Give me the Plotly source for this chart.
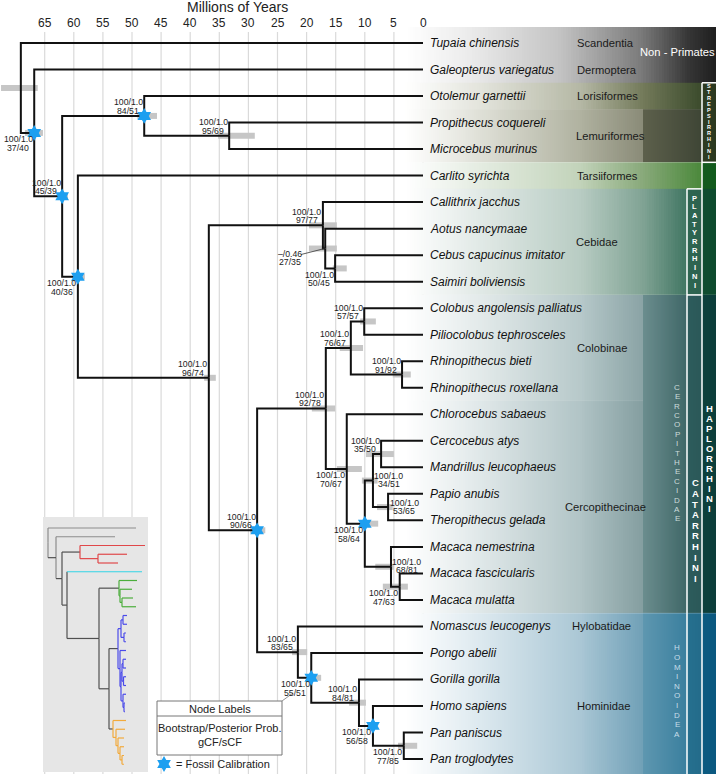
import plotly.graph_objects as go

# ---------------- data ----------------
tip_names = ["Tupaia chinensis", "Galeopterus variegatus", "Otolemur garnettii",
             "Propithecus coquereli", "Microcebus murinus", "Carlito syrichta",
             "Callithrix jacchus", "Aotus nancymaae", "Cebus capucinus imitator",
             "Saimiri boliviensis", "Colobus angolensis palliatus", "Piliocolobus tephrosceles",
             "Rhinopithecus bieti", "Rhinopithecus roxellana", "Chlorocebus sabaeus",
             "Cercocebus atys", "Mandrillus leucophaeus", "Papio anubis", "Theropithecus gelada",
             "Macaca nemestrina", "Macaca fascicularis", "Macaca mulatta",
             "Nomascus leucogenys", "Pongo abelii", "Gorilla gorilla", "Homo sapiens",
             "Pan paniscus", "Pan troglodytes"]

node_names = ["root", "N1", "Primates", "Strep", "Lemur", "Haplo", "Anthro", "Platy", "B", "C",
              "Catarrhini", "Cercopithecidae", "Colobinae", "Colobini", "Rhino",
              "Cercopithecinae", "Papionini", "Papionina", "CM", "PT", "Macaca", "FM",
              "Hominoidea", "Hominidae", "Homininae", "Hominini", "Pan"]
node_children = [
    ["Tupaia chinensis", "N1"],
    ["Galeopterus variegatus", "Primates"],
    ["Strep", "Haplo"],
    ["Otolemur garnettii", "Lemur"],
    ["Propithecus coquereli", "Microcebus murinus"],
    ["Carlito syrichta", "Anthro"],
    ["Platy", "Catarrhini"],
    ["Callithrix jacchus", "B"],
    ["Aotus nancymaae", "C"],
    ["Cebus capucinus imitator", "Saimiri boliviensis"],
    ["Cercopithecidae", "Hominoidea"],
    ["Colobinae", "Cercopithecinae"],
    ["Colobini", "Rhino"],
    ["Colobus angolensis palliatus", "Piliocolobus tephrosceles"],
    ["Rhinopithecus bieti", "Rhinopithecus roxellana"],
    ["Chlorocebus sabaeus", "Papionini"],
    ["Papionina", "Macaca"],
    ["CM", "PT"],
    ["Cercocebus atys", "Mandrillus leucophaeus"],
    ["Papio anubis", "Theropithecus gelada"],
    ["Macaca nemestrina", "FM"],
    ["Macaca fascicularis", "Macaca mulatta"],
    ["Nomascus leucogenys", "Hominidae"],
    ["Pongo abelii", "Homininae"],
    ["Gorilla gorilla", "Hominini"],
    ["Homo sapiens", "Pan"],
    ["Pan paniscus", "Pan troglodytes"],
]
node_age = [69.1, 66.8, 62.0, 47.9, 33.3, 59.3, 36.8, 17.2, 16.8, 15.1,
            28.5, 16.7, 12.4, 10.1, 3.6, 13.1, 10.0, 8.6, 7.2, 6.0, 5.5, 4.0,
            21.5, 19.2, 11.0, 8.6, 3.3]
ci_old = [72.5, 68.4, 62.7, 49.1, 35.2, 59.8, 37.6, 19.6, 19.6, 15.5,
          29.7, 19.1, 14.3, 10.8, 5.2, 14.8, 10.5, 10.5, 9.8, 7.9, 8.2, 6.9,
          22.5, 19.9, 12.7, 9.5, 4.3]
ci_young = [66.2, 65.3, 61.0, 45.7, 28.9, 58.1, 35.6, 14.8, 14.8, 13.1,
            27.1, 15.1, 10.3, 8.1, 2.1, 10.5, 7.7, 7.8, 5.0, 5.2, 5.0, 2.6,
            19.9, 17.5, 9.8, 7.7, 1.0]
support = ["", "100/1.0", "100/1.0", "100/1.0", "100/1.0", "100/1.0", "100/1.0", "100/1.0",
           "\u2013/0.46", "100/1.0", "100/1.0", "100/1.0", "100/1.0", "100/1.0", "100/1.0",
           "100/1.0", "100/1.0", "100/1.0", "100/1.0", "100/1.0", "100/1.0", "100/1.0",
           "100/1.0", "100/1.0", "100/1.0", "100/1.0", "100/1.0"]
concordance = ["", "37/40", "45/39", "84/51", "95/69", "40/36", "96/74", "97/77", "27/35",
               "50/45", "90/66", "92/78", "76/67", "57/57", "91/92", "70/67", "58/64", "34/51",
               "35/50", "53/65", "68/81", "47/63", "83/65", "55/51", "84/81", "56/58", "77/85"]
fossil = [False, True, True, True, False, True, False, False, False, False,
          True, False, False, False, False, False, True, False, False, False, False, False,
          False, True, False, True, False]
label_side = ["", "bl", "al", "al", "al", "bl", "al", "al", "lead", "bl",
              "al", "al", "al", "al", "al", "bl", "bl", "r", "al", "r", "r", "bl",
              "al", "bl", "al", "bl", "bl"]

tick_vals = [65, 60, 55, 50, 45, 40, 35, 30, 25, 20, 15, 10, 5, 0]
tick_text = [str(v) for v in tick_vals]

clade_labels = ["Scandentia", "Dermoptera", "Lorisiformes", "Lemuriformes", "Tarsiiformes",
                "Cebidae", "Colobinae", "Cercopithecinae", "Hylobatidae", "Hominidae"]
clade_label_rows = [0, 1, 2, 3.5, 5, 7.5, 11.5, 17.5, 22, 25]

# inset phylogram (relative branch depths)
inset_tip_depth = [88, 67, 97, 79, 70, 94, 89, 84, 85, 88, 79, 79, 78, 78, 78, 78, 78, 78, 78,
                   78, 77, 77, 78, 77, 76, 76, 76, 76]
inset_node_depth = [0, 8, 14, 32, 50, 19, 51, 71, 72, 74, 61, 70, 73, 75, 76, 72, 73, 74, 75,
                    75.5, 75, 76, 65, 68, 70, 72, 74]

# ---------------- geometry helpers ----------------
W, H = 720, 774
X0_PX, PX_PER_MA = 423.0, 5.82
Y0_PX, PX_PER_ROW = 43.0, 26.52
def px2ma(px): return (X0_PX - px) / PX_PER_MA
def py2row(py): return (py - Y0_PX) / PX_PER_ROW
def pxp(px): return px / W
def pyp(py): return 1 - py / H

SANS = "Liberation Sans, Arial, sans-serif"

# ---------------- tree layout ----------------
idx = {n: i for i, n in enumerate(node_names)}
ypos = {n: float(i) for i, n in enumerate(tip_names)}
agepos = {n: 0.0 for n in tip_names}
def resolve(n):
    if n in ypos:
        return ypos[n]
    ys = [resolve(c) for c in node_children[idx[n]]]
    ypos[n] = (ys[0] + ys[-1]) / 2
    return ypos[n]
for n in node_names:
    resolve(n)
    agepos[n] = node_age[idx[n]]

fig = go.Figure()
shapes = []
annots = []

# ---------------- gradient bands ----------------
def band(row_top, row_bot, px_left, px_right, stops, n=120):
    xs = [px_left + (px_right - px_left) * k / n for k in range(n + 1)]
    cen = [(xs[k] + xs[k + 1]) / 2 for k in range(n)]
    edges = [px2ma(p) for p in xs][::-1]
    z = [cen[::-1]]
    cs = [[(p - px_left) / (px_right - px_left), c] for p, c in stops]
    fig.add_trace(go.Heatmap(x=edges, y=[row_top, row_bot], z=z, zmin=px_left, zmax=px_right,
                             colorscale=cs, showscale=False, hoverinfo="skip"))

TOP, BOT = py2row(27), py2row(774)
band(TOP, 1.5, 405, 716, [(405, "#ffffff"), (470, "#ebebeb"), (560, "#c3c3c3"),
                          (640, "#7c7c7c"), (690, "#343434"), (716, "#1f1f1f")])
band(1.5, 2.5, 405, 702, [(405, "#ffffff"), (480, "#e3e4dc"), (580, "#b5b8a5"),
                          (643, "#737a5a"), (702, "#3a4a2b")])
band(2.5, 4.5, 405, 643, [(405, "#ffffff"), (480, "#dfe0d7"), (580, "#b0b2a0"), (643, "#8a8b78")])
band(2.5, 4.5, 643, 702, [(643, "#5d604c"), (702, "#3e4535")])
band(1.5, 4.5, 702, 716, [(702, "#2f3c22"), (716, "#2b381f")])
band(4.5, 5.5, 405, 702, [(405, "#ffffff"), (480, "#e4ece1"), (580, "#c2d3ba"),
                          (643, "#88a97a"), (702, "#4a883a")])
band(5.5, 9.5, 405, 687, [(405, "#ffffff"), (480, "#e1e9e6"), (580, "#b8ccc3"),
                          (643, "#80a394"), (687, "#407562")])
band(5.5, 9.5, 687, 702, [(687, "#2f6652"), (702, "#2c624e")])
band(9.5, 13.5, 405, 643, [(405, "#ffffff"), (480, "#e3eaea"), (580, "#b7c9ca"), (643, "#8aa3a5")])
band(13.5, 21.5, 405, 643, [(405, "#ffffff"), (480, "#e0e8e9"), (580, "#b1c4c6"), (643, "#849ea0")])
band(9.5, 21.5, 643, 687, [(643, "#6b8d8e"), (687, "#3f6767")])
band(21.5, BOT, 405, 643, [(405, "#ffffff"), (480, "#dde9ef"), (580, "#aac7d5"), (643, "#70a0b7")])
band(21.5, BOT, 643, 687, [(643, "#5e97b0"), (687, "#3a7f9e")])
band(9.5, 21.5, 687, 702, [(687, "#2d5c5c"), (702, "#2b5858")])
band(21.5, BOT, 687, 702, [(687, "#26708f"), (702, "#236b8a")])
band(4.5, 5.5, 702, 716, [(702, "#145a1f"), (716, "#125a1c")])
band(5.5, 9.5, 702, 716, [(702, "#0f4d30"), (716, "#0e4a2e")])
band(9.5, 21.5, 702, 716, [(702, "#0d403c"), (716, "#0c3d3a")])
band(21.5, BOT, 702, 716, [(702, "#0c5b80"), (716, "#0b5880")])

# white borders of the strip boxes
def wline(x0, y0, x1, y1):
    shapes.append(dict(type="line", xref="x", yref="y", x0=px2ma(x0), x1=px2ma(x1), y0=y0, y1=y1,
                       line=dict(color="white", width=1.5), layer="above"))
wline(702, 1.5, 702, BOT)
wline(687, 5.5, 687, BOT)
wline(702, 1.5, 716, 1.5)
wline(702, 4.5, 716, 4.5)
wline(687, 5.5, 702, 5.5)
wline(687, 9.5, 702, 9.5)

# ---------------- grid & axis text ----------------
for v in tick_vals:
    shapes.append(dict(type="line", xref="x", yref="y", x0=v, x1=v, y0=py2row(32), y1=py2row(H),
                       line=dict(color="#dadada", width=1.2), layer="below"))
for v, t in zip(tick_vals, tick_text):
    annots.append(dict(x=v, y=pyp(23), xref="x", yref="paper", text=t, showarrow=False,
                       font=dict(family=SANS, size=12, color="#222"), xanchor="center", yanchor="middle"))
annots.append(dict(x=pxp(237), y=pyp(7), xref="paper", yref="paper", text="Millions of Years",
                   showarrow=False, font=dict(family=SANS, size=14, color="#222"),
                   xanchor="center", yanchor="middle"))

# legend box (data-referenced so it covers the grid)
def prect(x0, y0, x1, y1, **kw):
    shapes.append(dict(type="rect", xref="x", yref="y", x0=px2ma(x0), x1=px2ma(x1),
                       y0=py2row(y0), y1=py2row(y1), layer="below", **kw))
def pline(x0, y0, x1, y1, color, width):
    shapes.append(dict(type="line", xref="x", yref="y", x0=px2ma(x0), x1=px2ma(x1),
                       y0=py2row(y0), y1=py2row(y1), line=dict(color=color, width=width),
                       layer="below"))
prect(157, 701, 282, 755, fillcolor="white", line=dict(color="#777", width=1))
pline(157, 716, 282, 716, "#777", 1)
pline(282, 701, 293, 693, "#777", 0.8)

# ---------------- main tree ----------------
bx, by = [], []
for k, n in enumerate(node_names):
    bx += [ci_old[k], ci_young[k], None]
    by += [ypos[n], ypos[n], None]
fig.add_trace(go.Scatter(x=bx, y=by, mode="lines", line=dict(color="#c6c6c6", width=6),
                         hoverinfo="skip"))

ex, ey = [], []
for k, n in enumerate(node_names):
    a = node_age[k]
    for c in node_children[k]:
        ex += [a, a, agepos[c], None]
        ey += [ypos[n], ypos[c], ypos[c], None]
fig.add_trace(go.Scatter(x=ex, y=ey, mode="lines", line=dict(color="#111", width=2),
                         hoverinfo="skip"))

sx = [node_age[k] for k in range(len(node_names)) if fossil[k]]
sy = [ypos[node_names[k]] for k in range(len(node_names)) if fossil[k]]
sx.append(px2ma(164)); sy.append(py2row(764))
fig.add_trace(go.Scatter(x=sx, y=sy, mode="markers", hoverinfo="skip",
                         marker=dict(symbol="hexagram", size=12, color="#1d9ff0",
                                     line=dict(width=0))))

# node labels
offsets = {"al": (-16, 13.5, 5), "bl": (-16, -6.5, -15), "r": (16, 4.5, -3.5), "lead": (-35, -5, -13.5)}
for k, n in enumerate(node_names):
    if not support[k]:
        continue
    dx, d1, d2 = offsets[label_side[k]]
    for txt, dy in ((support[k], d1), (concordance[k], d2)):
        annots.append(dict(x=node_age[k], y=ypos[n], xref="x", yref="y", text=txt, showarrow=False,
                           xshift=dx, yshift=dy, xanchor="center", yanchor="middle",
                           font=dict(family=SANS, size=8.7, color="#222")))
    if label_side[k] == "lead":
        y_px = Y0_PX + ypos[n] * PX_PER_ROW
        shapes.append(dict(type="line", xref="x", yref="y", x0=px2ma(301), y0=py2row(y_px + 6),
                           x1=node_age[k] + 0.1, y1=ypos[n], line=dict(color="#333", width=0.8)))

# species labels
for n in tip_names:
    annots.append(dict(x=0, y=ypos[n], xref="x", yref="y", text="<i>%s</i>" % n, showarrow=False,
                       xshift=5, xanchor="left", yanchor="middle",
                       font=dict(family=SANS, size=12, color="#111")))

# clade labels
clade_px = [575, 575, 575, 574, 575, 574, 575, 563, 570, 575]
for t, r, p in zip(clade_labels, clade_label_rows, clade_px):
    annots.append(dict(x=px2ma(p), y=r, xref="x", yref="y", text=t, showarrow=False,
                       xanchor="left", yanchor="middle", font=dict(family=SANS, size=11.2, color="#1a1a1a")))
annots.append(dict(x=px2ma(677), y=py2row(52), xref="x", yref="y", text="Non - Primates",
                   showarrow=False, xanchor="center", yanchor="middle",
                   font=dict(family=SANS, size=11.2, color="white")))

# vertical stacked labels
def vlabel(word, xpx, ycen, step, size, color, bold):
    nlet = len(word)
    for i, ch in enumerate(word):
        yy = ycen + (i - (nlet - 1) / 2) * step
        annots.append(dict(x=px2ma(xpx), y=py2row(yy), xref="x", yref="y",
                           text="<b>%s</b>" % ch if bold else ch, showarrow=False,
                           xanchor="center", yanchor="middle",
                           font=dict(family=SANS, size=size, color=color)))
vlabel("STREPSIRRHINI", 709, 121.5, 5.9, 5.5, "white", True)
vlabel("PLATYRRHINI", 694.5, 241.5, 8.7, 7.5, "white", True)
vlabel("CATARRHINI", 695, 530.5, 10.6, 9.5, "white", True)
vlabel("HAPLORRHINI", 709, 458, 10.0, 9.5, "white", True)
vlabel("CERCOPITHECIDAE", 677, 453, 9.4, 8, "#cddcdc", False)
vlabel("HOMINOIDEA", 677, 691, 9.6, 8, "#c7dde9", False)

# legend text
for txt, ypx in (("Node Labels", 708.5), ("Bootstrap/Posterior Prob.", 728), ("gCF/sCF", 742)):
    annots.append(dict(x=pxp(219.5), y=pyp(ypx), xref="paper", yref="paper", text=txt,
                       showarrow=False, xanchor="center", yanchor="middle",
                       font=dict(family=SANS, size=11, color="#222")))
annots.append(dict(x=pxp(174), y=pyp(764), xref="paper", yref="paper", text="= Fossil Calibration",
                   showarrow=False, xanchor="left", yanchor="middle",
                   font=dict(family=SANS, size=11, color="#222")))

# ---------------- inset phylogram ----------------
INSET_ROW0, INSET_STEP, INSET_ROOT_PX = 528.0, 8.75, 48.0
ix_lo, ix_hi = 43 - INSET_ROOT_PX, 148 - INSET_ROOT_PX
iy_top, iy_bot = (517 - INSET_ROW0) / INSET_STEP, (772 - INSET_ROW0) / INSET_STEP
fig.add_trace(go.Scatter(x=[ix_lo, ix_hi, ix_hi, ix_lo, ix_lo], y=[iy_top, iy_top, iy_bot, iy_bot, iy_top],
                         mode="lines", fill="toself", fillcolor="#e6e6e6", line=dict(width=0),
                         xaxis="x2", yaxis="y2", hoverinfo="skip"))

depth = {n: inset_tip_depth[i] for i, n in enumerate(tip_names)}
for i, n in enumerate(node_names):
    depth[n] = inset_node_depth[i]
crown_colors = {"Strep": "#e0484a", "Platy": "#4cae3c", "Cercopithecidae": "#4b4bea",
                "Hominoidea": "#f2aa3c"}
tip_colors = {"Tupaia chinensis": "#8c8c8c", "Galeopterus variegatus": "#8c8c8c",
              "Carlito syrichta": "#33d4e6"}
color_of = {}
def paint(n, c):
    color_of[n] = c
    if n in idx:
        for ch in node_children[idx[n]]:
            paint(ch, c)
for n, c in crown_colors.items():
    paint(n, c)
BACK = "#505050"
segs = {}
def add_seg(col, xs, ys):
    s = segs.setdefault(col, ([], []))
    s[0].extend(xs + [None]); s[1].extend(ys + [None])
for k, n in enumerate(node_names):
    vcol = color_of.get(n, "#8c8c8c" if n in ("root", "N1") else BACK)
    for c in node_children[k]:
        ecol = color_of[n] if n in color_of else tip_colors.get(c, BACK)
        add_seg(vcol, [depth[n], depth[n]], [ypos[n], ypos[c]])
        add_seg(ecol, [depth[n], depth[c]], [ypos[c], ypos[c]])
for col, (xs, ys) in segs.items():
    fig.add_trace(go.Scatter(x=xs, y=ys, mode="lines", xaxis="x2", yaxis="y2",
                             line=dict(color=col, width=1.2), hoverinfo="skip"))

# ---------------- layout ----------------
fig.update_layout(
    width=W, height=H, margin=dict(l=0, r=0, t=0, b=0),
    paper_bgcolor="white", plot_bgcolor="white", showlegend=False,
    xaxis=dict(range=[px2ma(0), px2ma(W)], visible=False, fixedrange=True),
    yaxis=dict(range=[py2row(H), py2row(0)], visible=False, fixedrange=True),
    xaxis2=dict(domain=[pxp(43), pxp(148)], range=[ix_lo, ix_hi],
                visible=False, anchor="y2", fixedrange=True),
    yaxis2=dict(domain=[pyp(772), pyp(517)], range=[iy_bot, iy_top],
                visible=False, anchor="x2", fixedrange=True),
    shapes=shapes, annotations=annots,
)
fig.write_html("out.html", config={"displayModeBar": False},
               post_script="document.body.style.margin='0px';")
